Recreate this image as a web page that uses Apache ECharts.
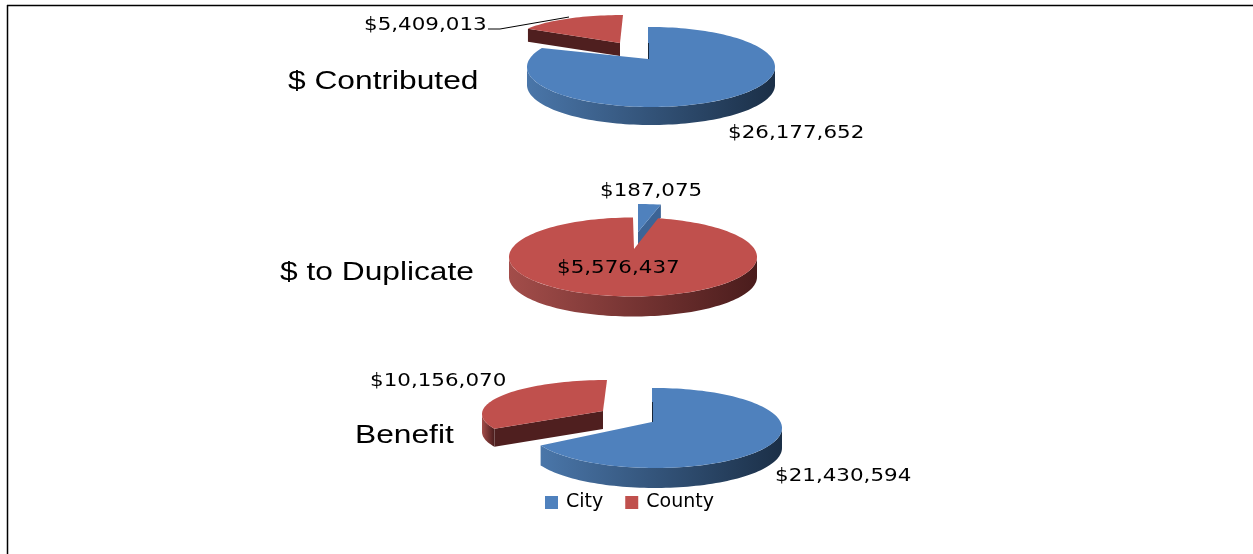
<!DOCTYPE html>
<html lang="en">
    <head>
        <title>City and County</title>
        <meta charset="utf-8">
        <script src="https://cdn.jsdelivr.net/npm/echarts@6/dist/echarts.min.js"></script>
    </head>

    <style>
        html, body, #main {
            width: 100%;
            height: 100%;
            margin: 0;
            background: #fff;
        }
    </style>

    <body>
        <div id="main"></div>

        <script>
            const categories = ['City', 'County'];
            const pieNames = ['$ Contributed', '$ to Duplicate', 'Benefit'];
            const cityValues = [26177652, 187075, 21430594];
            const countyValues = [5409013, 5576437, 10156070];

            // the picture is a faked 3D pie, so each slice gets its own flattened ellipse
            const cityShapes = [
                { cx: 651, cy: 67, rx: 124, ry: 40, ax: 648, ay: 59, depth: 18, z: 2, tick: 16, lx: 728, ly: 133 },
                { cx: 638, cy: 232, rx: 113, ry: 28, ax: 638, ay: 232, depth: 13, z: 1, tick: 0, lx: 600, ly: 191 },
                { cx: 655, cy: 428, rx: 127, ry: 40, ax: 652, ay: 422, depth: 20, z: 2, tick: 20, lx: 775, ly: 476 }
            ];
            const countyShapes = [
                { cx: 623, cy: 41, rx: 108, ry: 26, ax: 620, ay: 43, depth: 13, z: 1, tick: 0, lx: 364, ly: 25 },
                { cx: 633, cy: 257, rx: 124, ry: 39.5, ax: 634, ay: 249, depth: 20, z: 2, tick: 0, lx: 557, ly: 268 },
                { cx: 607, cy: 414, rx: 125, ry: 34, ax: 603, ay: 411, depth: 18, z: 1, tick: 0, lx: 370, ly: 381 }
            ];
            const namePositions = [[288, 82], [280, 273], [355, 436]];

            const colors = {
                City: { top: '#4f81bd', light: '#4a76a9', dark: '#1b2f47', face: '#3c6496', tick: '#16263a' },
                County: { top: '#c0504d', light: '#a34d4a', dark: '#4a1c1c', face: '#4f1f1f', tick: '#4f1f1f' }
            };

            const money = (v) => '$' + v.toLocaleString('en-US');

            // angle counts clockwise from 12 o'clock
            const rimPoint = (s, deg, drop) => {
                const a = deg * Math.PI / 180;
                return [s.cx + s.rx * Math.sin(a), s.cy - s.ry * Math.cos(a) + (drop || 0)];
            };

            const arc = (s, from, to, drop) => {
                const pts = [];
                const steps = Math.max(2, Math.ceil((to - from) / 2));
                for (let i = 0; i <= steps; i++) {
                    pts.push(rimPoint(s, from + (to - from) * i / steps, drop));
                }
                return pts;
            };

            const cutFace = (s, deg, fill, z) => {
                const rim = rimPoint(s, deg);
                return {
                    type: 'polygon',
                    z2: z,
                    shape: { points: [rim, [s.ax, s.ay], [s.ax, s.ay + s.depth], [rim[0], rim[1] + s.depth]] },
                    style: { fill: fill }
                };
            };

            const makeRender = (category) => (params, api) => {
                const pie = api.value(0);
                const value = api.value(1);
                const isCity = category === 'City';
                const s = (isCity ? cityShapes : countyShapes)[pie];
                const c = colors[category];
                const cityAngle = cityValues[pie] / (cityValues[pie] + countyValues[pie]) * 360;
                const from = isCity ? 0 : cityAngle;
                const to = isCity ? cityAngle : 360;
                const z = s.z * 10;
                const children = [];

                // outer wall, only the front half of the rim shows
                const wallFrom = Math.max(from, 90);
                const wallTo = Math.min(to, 270);
                if (wallTo > wallFrom) {
                    const upper = arc(s, wallFrom, wallTo, 0);
                    const lower = arc(s, wallFrom, wallTo, s.depth).reverse();
                    children.push({
                        type: 'polygon',
                        z2: z,
                        shape: { points: upper.concat(lower) },
                        style: {
                            fill: new echarts.graphic.LinearGradient(0, 0, 1, 0, [
                                { offset: 0, color: c.light },
                                { offset: 1, color: c.dark }
                            ])
                        }
                    });
                }

                // cut faces that turn towards the viewer
                if (Math.cos((from - 90) * Math.PI / 180) < -1e-6) {
                    children.push(cutFace(s, from, c.face, z + 1));
                }
                if (Math.cos((to + 90) * Math.PI / 180) < -1e-6) {
                    children.push(cutFace(s, to, c.face, z + 1));
                }

                // the 12 o'clock edge stands straight above the apex in the picture
                const rim = arc(s, from, to, 0);
                const outline = isCity && s.tick
                    ? [[s.ax, s.ay], [s.ax, s.cy - s.ry]].concat(rim)
                    : [[s.ax, s.ay]].concat(rim);
                children.push({
                    type: 'polygon',
                    z2: z + 2,
                    shape: { points: outline },
                    style: { fill: c.top }
                });

                if (s.tick) {
                    children.push({
                        type: 'line',
                        z2: z + 3,
                        shape: { x1: s.ax + 0.5, y1: s.ay, x2: s.ax + 0.5, y2: s.ay - s.tick },
                        style: { stroke: c.tick, lineWidth: 1 }
                    });
                }

                children.push({
                    type: 'text',
                    z2: 100,
                    x: s.lx,
                    y: s.ly,
                    scaleX: 1.19,
                    style: {
                        text: money(value),
                        fontFamily: 'DejaVu Sans',
                        fontSize: 18,
                        fill: '#000',
                        align: 'left',
                        verticalAlign: 'middle'
                    }
                });

                return { type: 'group', children: children };
            };

            const chart = echarts.init(document.getElementById('main'));

            const option = {
                animation: false,
                backgroundColor: '#fff',
                legend: {
                    data: categories,
                    left: 545,
                    top: 493,
                    icon: 'rect',
                    itemWidth: 13,
                    itemHeight: 13,
                    itemGap: 22,
                    selectedMode: false,
                    padding: 0,
                    textStyle: { fontFamily: 'DejaVu Sans', fontSize: 19, color: '#000', padding: [0, 0, 0, 3] }
                },
                series: [
                    {
                        type: 'custom',
                        name: 'City',
                        coordinateSystem: 'none',
                        silent: true,
                        itemStyle: { color: colors.City.top },
                        renderItem: makeRender('City'),
                        data: cityValues.map((v, i) => [i, v])
                    },
                    {
                        type: 'custom',
                        name: 'County',
                        coordinateSystem: 'none',
                        silent: true,
                        itemStyle: { color: colors.County.top },
                        renderItem: makeRender('County'),
                        data: countyValues.map((v, i) => [i, v])
                    }
                ],
                graphic: [
                    { type: 'line', silent: true, shape: { x1: 7, y1: 5.5, x2: 1253, y2: 5.5 }, style: { stroke: '#000', lineWidth: 1.5 } },
                    { type: 'line', silent: true, shape: { x1: 7.5, y1: 5, x2: 7.5, y2: 554 }, style: { stroke: '#000', lineWidth: 1.5 } },
                    // leader line of the county label on the first pie
                    { type: 'polyline', silent: true, z: 50, shape: { points: [[488, 29], [500, 29], [569, 17]] }, style: { stroke: '#000', fill: null, lineWidth: 1 } }
                ].concat(pieNames.map((name, i) => ({
                    type: 'text',
                    silent: true,
                    x: namePositions[i][0],
                    y: namePositions[i][1],
                    scaleX: 1.22,
                    style: {
                        text: name,
                        fontFamily: 'Liberation Sans',
                        fontSize: 26,
                        fill: '#000',
                        align: 'left',
                        verticalAlign: 'middle'
                    }
                })))
            };

            chart.setOption(option);

            window.onresize = function () {
                chart.resize();
            }
        </script>
    </body>
</html>
